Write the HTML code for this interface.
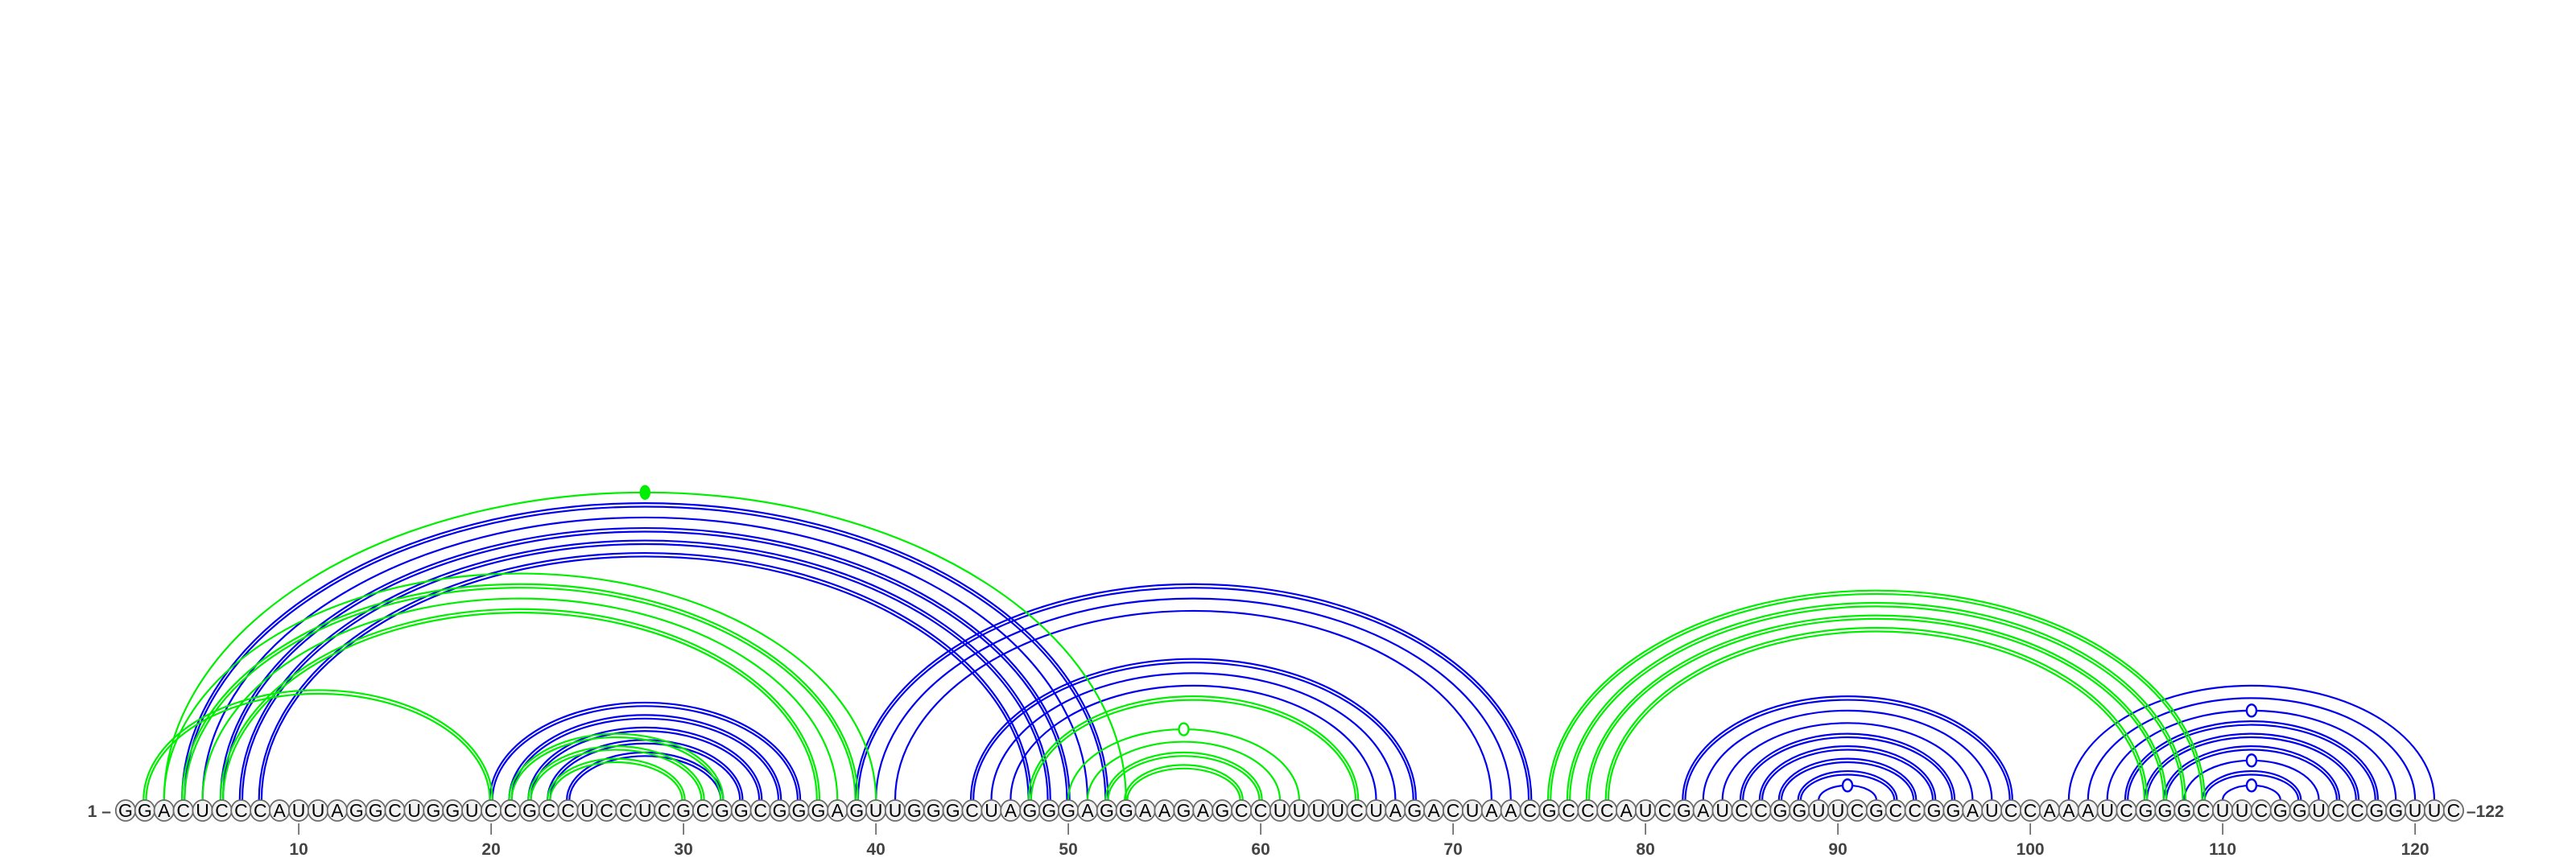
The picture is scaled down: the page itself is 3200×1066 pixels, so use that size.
<!DOCTYPE html>
<html><head><meta charset="utf-8"><style>
html,body{margin:0;padding:0;background:#fff;}
svg{display:block;}
</style></head><body>
<svg id="chart" width="3200" height="1066" viewBox="0 0 3200 1066" xmlns="http://www.w3.org/2000/svg">
<g id="arcs"></g>
<g id="nts"></g>
<g id="ticks"></g>
</svg>
<script>
const sequence = "GGACUCCCAUUAGGCUGGUCCGCCUCCUCGCGGCGGGAGUUGGGCUAGGGAGGAAGAGCCUUUUCUAGACUAACGCCCAUCGAUCCGGUUCGCCGGAUCCAAAUCGGGCUUCGGUCCGGUUC";
const tickValues = [10,20,30,40,50,60,70,80,90,100,110,120];
// blue pairs: [i, j, double(1/0), marker(1/0)]
const bluePairs = [
 [4,52,1,0],[5,51,0,0],[6,50,1,0],[7,49,1,0],[8,48,1,0],
 [20,36,1,0],[21,35,1,0],[22,34,1,0],[23,33,1,0],[24,32,1,0],
 [39,74,1,0],[40,73,0,0],[41,72,0,0],
 [45,68,1,0],[46,67,0,0],[47,66,0,0],
 [82,99,1,0],[83,98,0,0],[84,97,0,0],[85,96,1,0],[86,95,1,0],[87,94,1,0],[88,93,1,0],[89,92,0,1],
 [102,121,0,0],[103,120,0,0],[104,119,0,1],[105,118,1,0],[106,117,1,0],[107,116,1,0],[108,115,0,1],[109,114,1,0],[110,113,0,1]
];
const greenPairs = [
 [3,53,0,2],[2,20,1,0],
 [3,40,0,0],[4,39,1,0],[5,38,0,0],[6,37,1,0],
 [21,32,1,0],[22,31,1,0],[23,30,1,0],
 [48,65,1,0],[50,62,0,1],[51,61,0,0],[52,60,1,0],[53,59,1,0],
 [75,109,1,0],[76,108,1,0],[77,107,1,0],[78,106,1,0]
];
const NS="http://www.w3.org/2000/svg";
const X0=156, DX=23.9, YC=1007, Y0=994;
function xPos(p){return X0+(p-1)*DX;}
function arcH(half){return Math.max(8,0.648*half-5);}
const arcsG=document.getElementById('arcs');
function arcPath(x1,x2,h){const rx=(x2-x1)/2;return `M${x1},${Y0} A${rx},${h} 0 0 1 ${x2},${Y0}`;}
function drawPairs(list,color,name){
 list.forEach(function(pr){
  const i=pr[0],j=pr[1],dbl=pr[2],mk=pr[3];
  const x1=xPos(i),x2=xPos(j),half=(x2-x1)/2,h=arcH(half);
  const paths = dbl ? [[x1-1.6,x2+1.6,h+2.2],[x1+1.6,x2-1.6,h-2.2]] : [[x1,x2,h]];
  paths.forEach(function(q){
   const p=document.createElementNS(NS,'path');
   p.setAttribute('d',arcPath(q[0],q[1],q[2]));
   p.setAttribute('fill','none');p.setAttribute('stroke',color);p.setAttribute('stroke-width','2.2');
   
   
   arcsG.appendChild(p);
  });
  if(mk){
   const c=document.createElementNS(NS,'ellipse');
   c.setAttribute('cx',(x1+x2)/2);c.setAttribute('cy',Y0-h);
   c.setAttribute('rx',mk===2?5.5:6);c.setAttribute('ry',mk===2?8:7.5);
   c.setAttribute('fill',mk===2?color:'#fff');c.setAttribute('stroke',color);c.setAttribute('stroke-width','2.4');
   
   
   arcsG.appendChild(c);
  }
 });
}
drawPairs(bluePairs,'#0000ee','blue-arc');
drawPairs(greenPairs,'#00ee00','green-arc');
const ntG=document.getElementById('nts');
for(let k=0;k<sequence.length;k++){
 const x=xPos(k+1);
 const c=document.createElementNS(NS,'ellipse');
 c.setAttribute('cx',x);c.setAttribute('cy',YC);c.setAttribute('rx',12.2);c.setAttribute('ry',13);
 c.setAttribute('fill','#f2f2f2');c.setAttribute('stroke','#6a6a6a');c.setAttribute('stroke-width','1.8');
 
 
 ntG.appendChild(c);
 const t=document.createElementNS(NS,'text');
 t.setAttribute('x',x);t.setAttribute('y',YC+8);t.setAttribute('text-anchor','middle');
 t.setAttribute('font-family','Liberation Sans, sans-serif');t.setAttribute('font-size','23');t.setAttribute('fill','#000');
 t.textContent=sequence[k];
 
 
 ntG.appendChild(t);
}
const tG=document.getElementById('ticks');
tickValues.forEach(function(v){
 const x=xPos(v);
 const l=document.createElementNS(NS,'line');
 l.setAttribute('x1',x);l.setAttribute('x2',x);l.setAttribute('y1',1023);l.setAttribute('y2',1037);
 l.setAttribute('stroke','#555');l.setAttribute('stroke-width','1.5');
 
 
 tG.appendChild(l);
 const t=document.createElementNS(NS,'text');
 t.setAttribute('x',x);t.setAttribute('y',1062);t.setAttribute('text-anchor','middle');
 t.setAttribute('font-family','Liberation Sans, sans-serif');t.setAttribute('font-size','21');t.setAttribute('font-weight','bold');t.setAttribute('fill','#444');
 t.textContent=String(v);
 
 
 tG.appendChild(t);
});
function endLabel(txt,x,anchor,name){
 const t=document.createElementNS(NS,'text');
 t.setAttribute('x',x);t.setAttribute('y',YC+8);t.setAttribute('text-anchor',anchor);
 t.setAttribute('font-family','Liberation Sans, sans-serif');t.setAttribute('font-size','21');t.setAttribute('font-weight','bold');t.setAttribute('fill','#444');
 t.textContent=txt;
 
 
 tG.appendChild(t);
}
endLabel('1 \u2013',xPos(1)-18,'end','start-label');
endLabel('\u2013'+sequence.length,xPos(sequence.length)+16,'start','end-label');
</script>
</body></html>
